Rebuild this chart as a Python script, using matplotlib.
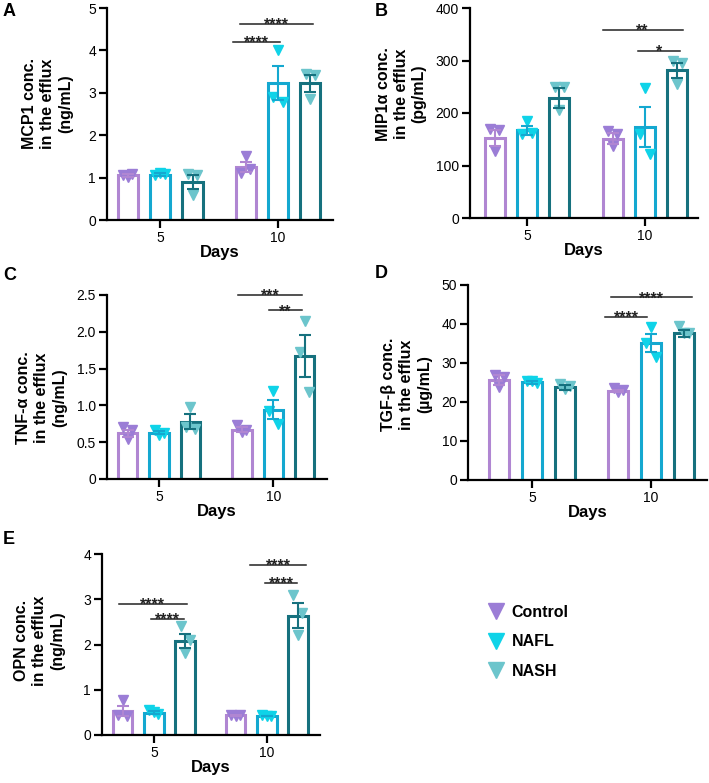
import matplotlib
matplotlib.use("Agg")
import matplotlib.pyplot as plt
from matplotlib.lines import Line2D

plt.rcParams['font.family'] = ['Liberation Sans', 'DejaVu Sans']

groups = ["Control", "NAFL", "NASH"]
days = ["5", "10"]

# bar order: Control d5, NAFL d5, NASH d5, Control d10, NAFL d10, NASH d10
mcp1_mean = [1.05, 1.07, 0.89, 1.25, 3.23, 3.23]
mcp1_sem = [0.03, 0.03, 0.16, 0.12, 0.40, 0.20]
mcp1_pts = [[1.05, 1.08, 1.02], [1.05, 1.08, 1.12], [1.08, 1.05, 0.58],
            [1.12, 1.20, 1.50], [2.90, 2.78, 4.02], [3.45, 3.42, 2.85]]
mcp1_sig = [(0.62, 1.02, 4.2, "****"), (0.68, 1.30, 4.63, "****")]

mip1a_mean = [152, 167, 229, 151, 173, 281]
mip1a_sem = [15, 9, 19, 10, 38, 14]
mip1a_pts = [[170, 168, 128], [160, 162, 185], [250, 250, 205],
             [165, 160, 137], [160, 122, 248], [300, 295, 255]]
mip1a_sig = [(0.64, 1.32, 359, "**"), (0.94, 1.30, 319, "*")]

tnfa_mean = [0.62, 0.63, 0.78, 0.67, 0.94, 1.67]
tnfa_sem = [0.05, 0.02, 0.10, 0.03, 0.13, 0.28]
tnfa_pts = [[0.70, 0.66, 0.55], [0.67, 0.62, 0.60], [0.70, 0.68, 0.98],
            [0.73, 0.66, 0.64], [0.93, 0.75, 1.19], [1.72, 1.18, 2.14]]
tnfa_sig = [(0.69, 1.25, 2.5, "***"), (0.96, 1.25, 2.29, "**")]

tgfb_mean = [25.6, 25.0, 23.8, 22.8, 35.2, 37.6]
tgfb_sem = [1.3, 0.3, 0.6, 0.3, 2.3, 0.9]
tgfb_pts = [[27.0, 26.5, 23.8], [25.5, 24.8, 25.3], [24.5, 24.2, 23.3],
            [23.5, 23.0, 22.6], [35.0, 31.5, 39.2], [39.5, 37.8, 37.7]]
tgfb_sig = [(0.61, 0.97, 41.7, "****"), (0.66, 1.34, 46.8, "****")]

opn_mean = [0.54, 0.49, 2.08, 0.44, 0.42, 2.64]
opn_sem = [0.11, 0.03, 0.16, 0.01, 0.01, 0.27]
opn_pts = [[0.45, 0.42, 0.78], [0.55, 0.47, 0.50], [2.40, 2.10, 1.82],
           [0.45, 0.44, 0.43], [0.44, 0.42, 0.41], [3.10, 2.70, 2.22]]
opn_sig = [(-0.31, 0.29, 2.9, "****"), (-0.03, 0.27, 2.56, "****"),
           (0.85, 1.35, 3.76, "****"), (0.98, 1.27, 3.37, "****")]

bar_colors = ["#b086d2", "#14a8d0", "#16717e"]
pt_colors = ["#9b7dd6", "#0fd3e8", "#6cc5cc"]

W, H = 709, 783
fig = plt.figure(figsize=(W / 100, H / 100), dpi=100)


def make_axes(l, r, t, b):
    return fig.add_axes([l / W, 1 - b / H, (r - l) / W, (b - t) / H])


def panel(ax, mean, sem, pts, sig, ymax, ystep, ylabel, xlim, lab_xy, letter, letter_xy, tickfmt=None):
    offs = [-0.275, 0.0, 0.275]
    jit = [-0.04, 0.04, 0.0]
    for i in range(6):
        g = i % 3
        x = (i // 3) + offs[g]
        ax.bar(x, mean[i], width=0.17, facecolor="white", edgecolor=bar_colors[g],
               linewidth=2.2, zorder=2)
        for k, v in enumerate(pts[i]):
            ax.plot(x + jit[k], v, marker="v", ms=7, color=pt_colors[g], ls="none", zorder=3)
        ax.errorbar(x, mean[i], yerr=sem[i], color=bar_colors[g], capsize=4.5,
                    elinewidth=1.5, capthick=1.5, zorder=4)
    for x1, x2, y, s in sig:
        ax.plot([x1, x2], [y, y], color="#222222", lw=1.1, zorder=5, clip_on=False)
        ax.annotate(s, ((x1 + x2) / 2, y), xytext=(0, -4.2), textcoords="offset points",
                    ha="center", va="baseline", fontsize=11.5, fontweight="bold",
                    color="#222222", annotation_clip=False)
    ax.set_xlim(*xlim)
    ax.set_ylim(0, ymax)
    ticks = [ystep * k for k in range(int(round(ymax / ystep)) + 1)]
    ax.set_yticks(ticks)
    if tickfmt:
        ax.set_yticklabels([tickfmt(t) for t in ticks])
    ax.set_xticks([0, 1])
    ax.set_xticklabels(days)
    for s in ["top", "right"]:
        ax.spines[s].set_visible(False)
    for s in ["left", "bottom"]:
        ax.spines[s].set_linewidth(1.6)
    ax.tick_params(axis="both", width=1.6, length=6, labelsize=10, pad=2)
    ax.set_ylabel(ylabel, fontsize=11.5, fontweight="bold", linespacing=1.25)
    ax.yaxis.set_label_coords(*lab_xy)
    ax.set_xlabel("Days", fontsize=12, fontweight="bold", labelpad=0)
    fig.text(letter_xy[0] / W, 1 - letter_xy[1] / H, letter, fontsize=13, fontweight="bold",
             va="center", ha="left")


def dec(t):
    return "0" if t == 0 else f"{t:.1f}"


axA = make_axes(107, 333, 8, 220)
panel(axA, mcp1_mean, mcp1_sem, mcp1_pts, mcp1_sig, 5, 1,
      "MCP1 conc.\nin the efflux\n(ng/mL)", (-0.45, 1.466), (-0.15, 0.55), "A", (3, 12))

axB = make_axes(470, 698, 8, 218)
panel(axB, mip1a_mean, mip1a_sem, mip1a_pts, mip1a_sig, 400, 100,
      "MIP1α conc.\nin the efflux\n(pg/mL)", (-0.483, 1.449), (-0.19, 0.59), "B", (375, 12))

axC = make_axes(107, 327, 295, 479)
panel(axC, tnfa_mean, tnfa_sem, tnfa_pts, tnfa_sig, 2.5, 0.5,
      "TNF-α conc.\nin the efflux\n(ng/mL)", (-0.456, 1.47), (-0.18, 0.44), "C", (3, 276), dec)

axD = make_axes(468, 707, 285, 480)
panel(axD, tgfb_mean, tgfb_sem, tgfb_pts, tgfb_sig, 50, 10,
      "TGF-β conc.\nin the efflux\n(µg/mL)", (-0.538, 1.47), (-0.15, 0.49), "D", (375, 274))

axE = make_axes(102, 320, 554, 735)
panel(axE, opn_mean, opn_sem, opn_pts, opn_sig, 4, 1,
      "OPN conc.\nin the efflux\n(ng/mL)", (-0.46, 1.47), (-0.17, 0.52), "E", (3, 539))

handles = [Line2D([], [], marker="v", ls="none", color=c, ms=12) for c in pt_colors]
fig.legend(handles, groups, loc="upper left", bbox_to_anchor=(478 / W, 1 - 597 / H),
           frameon=False, prop={"weight": "bold", "size": 11.5}, labelspacing=0.9,
           handletextpad=0.4, borderpad=0, handlelength=1.2)

fig.savefig("out.png", dpi=100)
